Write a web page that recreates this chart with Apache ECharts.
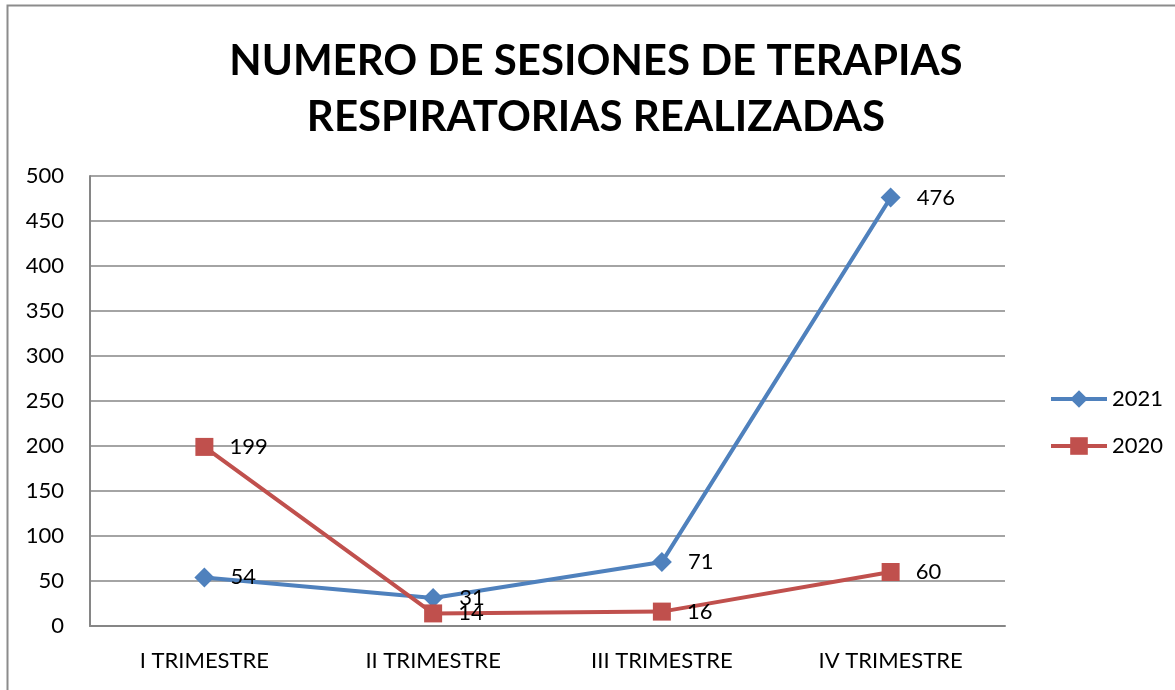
<!DOCTYPE html>
<html lang="es">
<head>
    <meta charset="UTF-8">
    <title>Terapias respiratorias</title>
    <style>
        body,html{
            margin: 0;
            height: 100%;
            width: 100%;
            background: #fff;
        }
    </style>
</head>
<body>
<div id="main" style="height: 690px; width: 1175px;"></div>
<script src="https://cdn.jsdelivr.net/npm/echarts@6/dist/echarts.min.js"></script>
<script>
    var trimestres = ['I TRIMESTRE', 'II TRIMESTRE', 'III TRIMESTRE', 'IV TRIMESTRE'];
    var serie2021 = [54, 31, 71, 476];
    var serie2020 = [199, 14, 16, 60];

    var font = 'Lato, "Open Sans", sans-serif';
    var myChart = echarts.init(document.getElementById('main'));

    myChart.setOption({
        animation: false,
        textStyle: { fontFamily: font },
        title: {
            text: 'NUMERO DE SESIONES DE TERAPIAS\nRESPIRATORIAS REALIZADAS',
            left: 591,
            textAlign: 'center',
            top: 28,
            textStyle: {
                fontSize: 42,
                fontWeight: 'bold',
                color: '#000',
                lineHeight: 56,
                fontFamily: font
            }
        },
        graphic: [{
            type: 'rect',
            shape: { x: 7.5, y: 5.5, width: 1300, height: 800 },
            style: { fill: 'none', stroke: '#8c8c8c', lineWidth: 2 },
            silent: true
        }],
        legend: {
            orient: 'vertical',
            left: 1044,
            top: 383,
            itemGap: 25,
            itemWidth: 56,
            itemHeight: 22,
            lineStyle: { width: 4 },
            textStyle: { fontSize: 22, color: '#000', fontFamily: font },
            data: ['2021', '2020']
        },
        grid: {
            left: 90,
            right: 170,
            top: 176,
            bottom: 64,
            containLabel: false
        },
        xAxis: {
            type: 'category',
            data: trimestres,
            boundaryGap: true,
            axisLine: { lineStyle: { color: '#868686', width: 2 } },
            axisTick: { show: false },
            axisLabel: { fontSize: 22, color: '#000', margin: 24, fontFamily: font }
        },
        yAxis: {
            type: 'value',
            min: 0,
            max: 500,
            interval: 50,
            axisLine: { show: true, lineStyle: { color: '#868686', width: 2 } },
            axisTick: { show: false },
            splitLine: { lineStyle: { color: '#868686', width: 1.5 } },
            axisLabel: { fontSize: 22, color: '#000', margin: 26, fontFamily: font }
        },
        series: [
            {
                name: '2021',
                type: 'line',
                data: serie2021,
                symbol: 'diamond',
                symbolSize: 20,
                lineStyle: { width: 4, color: '#4F81BD' },
                itemStyle: { color: '#4F81BD' },
                label: {
                    show: true,
                    position: 'right',
                    distance: 16,
                    fontSize: 22,
                    color: '#000',
                    fontFamily: font
                }
            },
            {
                name: '2020',
                type: 'line',
                data: serie2020,
                symbol: 'rect',
                symbolSize: 18,
                lineStyle: { width: 4, color: '#C0504D' },
                itemStyle: { color: '#C0504D' },
                label: {
                    show: true,
                    position: 'right',
                    distance: 16,
                    fontSize: 22,
                    color: '#000',
                    fontFamily: font
                }
            }
        ]
    });
</script>
</body>
</html>
